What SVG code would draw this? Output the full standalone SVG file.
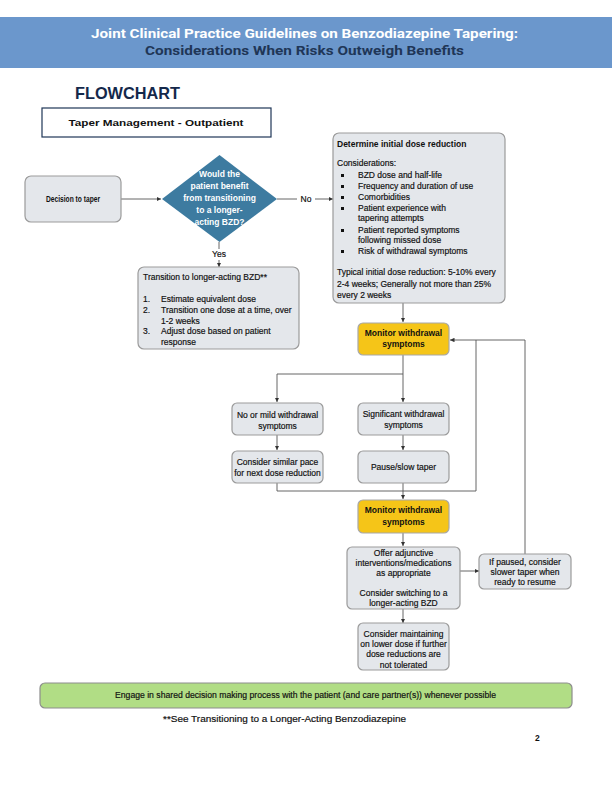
<svg xmlns="http://www.w3.org/2000/svg" width="612" height="792" viewBox="0 0 612 792">
<style>
.bx{fill:#e4e7eb;stroke:#9b9b9b;stroke-width:1.2}
.mon{fill:#f5c518;stroke:#a8a8a8;stroke-width:1.2}
.t{font-family:"Liberation Sans",Arial,sans-serif;font-size:8.5px;fill:#111;stroke:#111;stroke-width:0.18px}
.c{text-anchor:middle}
.b{font-weight:bold;stroke-width:0}
.w{fill:#fff;stroke:none}
.ln{fill:none;stroke:#555;stroke-width:0.9}
</style>
<defs>
<marker id="ah" viewBox="0 0 6 6" refX="6" refY="3" markerWidth="4.5" markerHeight="4.5" orient="auto" markerUnits="userSpaceOnUse">
<path d="M0,0 L6,3 L0,6 z" fill="#333"/>
</marker>
</defs>
<rect width="612" height="792" fill="#fff"/>
<g id="header">
<rect x="0" y="17" width="612" height="51" fill="#6b97cc"/>
<text x="304.5" y="38" text-anchor="middle" font-family="Roboto,'Liberation Sans',sans-serif" font-weight="bold" font-size="13.5" fill="#fff" textLength="427" lengthAdjust="spacingAndGlyphs">Joint Clinical Practice Guidelines on Benzodiazepine Tapering:</text>
<text x="304.5" y="55" text-anchor="middle" font-family="Roboto,'Liberation Sans',sans-serif" font-weight="bold" font-size="13.5" fill="#1f3657" textLength="319" lengthAdjust="spacingAndGlyphs">Considerations When Risks Outweigh Benefits</text>
<text x="75" y="99" font-family="'Liberation Sans',Arial,sans-serif" font-weight="bold" font-size="16.5" fill="#14284b" textLength="105" lengthAdjust="spacingAndGlyphs">FLOWCHART</text>
</g>
<g id="title-box">
<rect x="42" y="108" width="229" height="29" fill="#fff" stroke="#1f3657" stroke-width="1.2"/>
<text class="t c b" x="156" y="126" font-size="11" textLength="175" lengthAdjust="spacingAndGlyphs">Taper Management - Outpatient</text>
</g>
<g id="connectors">
<line class="ln" x1="121" y1="199" x2="161" y2="199" marker-end="url(#ah)"/>
<line class="ln" x1="277" y1="199" x2="297" y2="199"/>
<line class="ln" x1="315" y1="199" x2="333" y2="199" marker-end="url(#ah)"/>
<line class="ln" x1="219" y1="242" x2="219" y2="249"/>
<line class="ln" x1="219" y1="260" x2="219" y2="267" marker-end="url(#ah)"/>
<line class="ln" x1="403" y1="303" x2="403" y2="322" marker-end="url(#ah)"/>
<polyline class="ln" points="403,355 403,374 277,374 277,402" marker-end="url(#ah)"/>
<line class="ln" x1="403" y1="374" x2="403" y2="402" marker-end="url(#ah)"/>
<line class="ln" x1="277" y1="435" x2="277" y2="450" marker-end="url(#ah)"/>
<line class="ln" x1="403" y1="435" x2="403" y2="450" marker-end="url(#ah)"/>
<polyline class="ln" points="277,483 277,491 476,491 476,340"/>
<line class="ln" x1="403" y1="483" x2="403" y2="499" marker-end="url(#ah)"/>
<polyline class="ln" points="525,554 525,340 450,340" marker-end="url(#ah)"/>
<line class="ln" x1="403" y1="533" x2="403" y2="546" marker-end="url(#ah)"/>
<line class="ln" x1="460" y1="571" x2="479" y2="571" marker-end="url(#ah)"/>
<line class="ln" x1="403" y1="609" x2="403" y2="623" marker-end="url(#ah)"/>
<text class="t c" x="306" y="202" font-size="7.5">No</text>
<text class="t c" x="219" y="257" font-size="7.5">Yes</text>
</g>
<g id="decision-to-taper">
<rect class="bx" x="25" y="176" width="96" height="46" rx="6"/>
<text class="t c b" x="73" y="202" font-size="7.5" textLength="54" lengthAdjust="spacingAndGlyphs">Decision to taper</text>
</g>
<g id="question">
<polygon points="219.5,155 277,199 219.5,242 162,199" fill="#3d7ba0"/>
<text class="t c b w" x="219.5" y="177" font-size="8">Would the</text>
<text class="t c b w" x="219.5" y="189" font-size="8">patient benefit</text>
<text class="t c b w" x="219.5" y="201" font-size="8">from transitioning</text>
<text class="t c b w" x="219.5" y="213" font-size="8">to a longer-</text>
<text class="t c b w" x="219.5" y="225" font-size="8">acting BZD?</text>
</g>
<g id="transition">
<rect class="bx" x="138" y="267" width="161" height="82" rx="6"/>
<text class="t" x="143" y="280">Transition to longer-acting BZD**</text>
<text class="t" x="143" y="302">1.</text><text class="t" x="161" y="302">Estimate equivalent dose</text>
<text class="t" x="143" y="313">2.</text><text class="t" x="161" y="313">Transition one dose at a time, over</text>
<text class="t" x="161" y="324">1-2 weeks</text>
<text class="t" x="143" y="334">3.</text><text class="t" x="161" y="334">Adjust dose based on patient</text>
<text class="t" x="161" y="345">response</text>
</g>
<g id="determine">
<rect class="bx" x="333" y="133" width="172" height="170" rx="6"/>
<text class="t b" x="337" y="147">Determine initial dose reduction</text>
<text class="t" x="337" y="166">Considerations:</text>
<rect x="341" y="174" width="3" height="3" fill="#111"/><text class="t" x="358" y="178">BZD dose and half-life</text>
<rect x="341" y="185" width="3" height="3" fill="#111"/><text class="t" x="358" y="189">Frequency and duration of use</text>
<rect x="341" y="196" width="3" height="3" fill="#111"/><text class="t" x="358" y="200">Comorbidities</text>
<rect x="341" y="207" width="3" height="3" fill="#111"/><text class="t" x="358" y="211">Patient experience with</text>
<text class="t" x="358" y="221">tapering attempts</text>
<rect x="341" y="229" width="3" height="3" fill="#111"/><text class="t" x="358" y="233">Patient reported symptoms</text>
<text class="t" x="358" y="243">following missed dose</text>
<rect x="341" y="250" width="3" height="3" fill="#111"/><text class="t" x="358" y="254">Risk of withdrawal symptoms</text>
<text class="t" x="337" y="275">Typical initial dose reduction: 5-10% every</text>
<text class="t" x="337" y="287">2-4 weeks; Generally not more than 25%</text>
<text class="t" x="337" y="298">every 2 weeks</text>
</g>
<g id="monitor1">
<rect class="mon" x="358" y="323" width="91" height="32" rx="5"/>
<text class="t c b" x="403.5" y="336">Monitor withdrawal</text>
<text class="t c b" x="403.5" y="347">symptoms</text>
</g>
<g id="mild">
<rect class="bx" x="232" y="403" width="91" height="32" rx="5"/>
<text class="t c" x="277.5" y="418">No or mild withdrawal</text>
<text class="t c" x="277.5" y="429">symptoms</text>
</g>
<g id="significant">
<rect class="bx" x="358" y="403" width="91" height="32" rx="5"/>
<text class="t c" x="403.5" y="417">Significant withdrawal</text>
<text class="t c" x="403.5" y="428">symptoms</text>
</g>
<g id="similar-pace">
<rect class="bx" x="232" y="451" width="91" height="32" rx="5"/>
<text class="t c" x="277.5" y="465">Consider similar pace</text>
<text class="t c" x="277.5" y="476">for next dose reduction</text>
</g>
<g id="pause">
<rect class="bx" x="358" y="451" width="91" height="32" rx="5"/>
<text class="t c" x="403.5" y="470">Pause/slow taper</text>
</g>
<g id="monitor2">
<rect class="mon" x="358" y="500" width="91" height="33" rx="5"/>
<text class="t c b" x="403.5" y="513">Monitor withdrawal</text>
<text class="t c b" x="403.5" y="525">symptoms</text>
</g>
<g id="offer">
<rect class="bx" x="347" y="547" width="113" height="62" rx="5"/>
<text class="t c" x="403.5" y="556">Offer adjunctive</text>
<text class="t c" x="403.5" y="566">interventions/medications</text>
<text class="t c" x="403.5" y="576">as appropriate</text>
<text class="t c" x="403.5" y="596">Consider switching to a</text>
<text class="t c" x="403.5" y="606">longer-acting BZD</text>
</g>
<g id="if-paused">
<rect class="bx" x="479" y="554" width="92" height="35" rx="5"/>
<text class="t c" x="525" y="565">If paused, consider</text>
<text class="t c" x="525" y="575">slower taper when</text>
<text class="t c" x="525" y="585">ready to resume</text>
</g>
<g id="maintain">
<rect class="bx" x="358" y="623" width="91" height="47" rx="5"/>
<text class="t c" x="403.5" y="637">Consider maintaining</text>
<text class="t c" x="403.5" y="647">on lower dose if further</text>
<text class="t c" x="403.5" y="657">dose reductions are</text>
<text class="t c" x="403.5" y="668">not tolerated</text>
</g>
<g id="shared-decision">
<rect x="40" y="683" width="532" height="25" rx="5" fill="#b1dd85" stroke="#8d8d8d" stroke-width="1.2"/>
<text class="t c" x="305.5" y="698" font-size="8" textLength="381" lengthAdjust="spacingAndGlyphs">Engage in shared decision making process with the patient (and care partner(s)) whenever possible</text>
</g>
<g id="footer">
<text class="t" x="163" y="722" font-size="9" textLength="243" lengthAdjust="spacingAndGlyphs">**See Transitioning to a Longer-Acting Benzodiazepine</text>
<text class="t b" x="535" y="741" font-size="9">2</text>
</g>
</svg>
